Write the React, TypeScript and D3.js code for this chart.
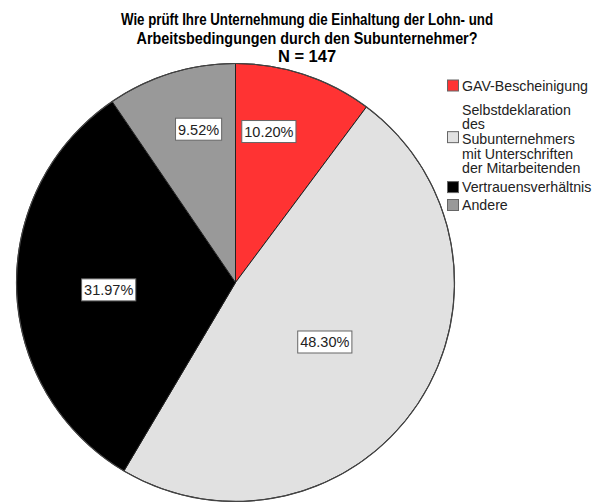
import React from "react";
import * as d3 from "d3";

const categories = [
  "GAV-Bescheinigung",
  "Selbstdeklaration des Subunternehmers mit Unterschriften der Mitarbeitenden",
  "Vertrauensverhältnis",
  "Andere",
];
const legendLines = [
  ["GAV-Bescheinigung"],
  ["Selbstdeklaration", "des", "Subunternehmers", "mit Unterschriften", "der Mitarbeitenden"],
  ["Vertrauensverhältnis"],
  ["Andere"],
];
const percents = [10.2, 48.3, 31.97, 9.52];
const percentLabels = ["10.20%", "48.30%", "31.97%", "9.52%"];
const colors = ["#FF3333", "#E1E1E1", "#000000", "#999999"];
const titleLines = [
  "Wie prüft Ihre Unternehmung die Einhaltung der Lohn- und",
  "Arbeitsbedingungen durch den Subunternehmer?",
  "N = 147",
];

// layout (not data)
const W = 614;
const H = 502;
const cx = 235.5;
const cy = 282.5;
const R = 219;
const labelRadiusFrac = [0.706, 0.49, 0.58, 0.72];
const labelAngleShift = [-5.9, 0, -1.5, 3.6];
const titleWidths = [372, 341, 0];
const labelFont = 14.5;
const legendFont = 14.2;

function textW(s: string, fs: number) {
  let w = 0;
  for (const c of s) {
    if (c === ".") w += 0.278;
    else if (c === "%") w += 0.889;
    else w += 0.556;
  }
  return w * fs;
}

export default function App() {
  const pie = d3.pie<number>().sort(null).value((d) => d);
  const arcs = pie(percents);
  const arcGen = d3.arc<d3.PieArcDatum<number>>().innerRadius(0).outerRadius(R);

  // legend layout
  const lineH = 14.7;
  let cursor = 79.5;
  const legendItems = legendLines.map((lines, i) => {
    const multi = lines.length > 1;
    const top = cursor + (multi ? 6 : 0);
    const baselines = lines.map((_, k) => top + 11.2 + k * lineH);
    const blockMid = top + (lines.length * lineH) / 2;
    const sqY = multi ? blockMid - 8.5 : top + 0.5;
    cursor = top + lines.length * lineH + (multi ? 4.2 : 3.2);
    return { lines, baselines, sqY, i };
  });

  return (
    <svg width={W} height={H} style={{ position: "absolute", left: 0, top: 0, background: "#fff" }}>
      <rect width={W} height={H} fill="#fff" />
      <g transform={`translate(${cx},${cy})`}>
        {arcs.map((a, i) => (
          <path key={i} d={arcGen(a) || ""} fill={colors[i]} stroke="#222" strokeWidth={1} />
        ))}
        <circle r={R} fill="none" stroke="#444" strokeWidth={1.2} />
        {arcs.map((a, i) => {
          const mid = (a.startAngle + a.endAngle) / 2 + (labelAngleShift[i] * Math.PI) / 180;
          const r = labelRadiusFrac[i] * R;
          const x = Math.sin(mid) * r;
          const y = -Math.cos(mid) * r;
          const tw = textW(percentLabels[i], labelFont);
          return (
            <g key={"l" + i} transform={`translate(${x},${y})`}>
              <rect x={-tw / 2 - 2.5} y={-11} width={tw + 5} height={22} fill="#fff" stroke="#666" strokeWidth={1} />
              <text
                textAnchor="middle"
                y={5.3}
                fontFamily="'Liberation Sans', Arial, sans-serif"
                fontSize={labelFont}
                fill="#222"
              >
                {percentLabels[i]}
              </text>
            </g>
          );
        })}
      </g>
      {titleLines.map((t, i) => (
        <text
          key={"t" + i}
          x={W / 2}
          y={25 + i * 18.5}
          textAnchor="middle"
          fontFamily="'Liberation Sans', Arial, sans-serif"
          fontWeight="bold"
          fontSize={16.5}
          fill="#000"
          {...(titleWidths[i] ? { textLength: titleWidths[i], lengthAdjust: "spacingAndGlyphs" } : {})}
        >
          {t}
        </text>
      ))}
      <g>
        {legendItems.map((it) => (
          <g key={"g" + it.i}>
            <rect x={447.5} y={it.sqY} width={11} height={11} fill={colors[it.i]} stroke="#666" strokeWidth={1} />
            {it.lines.map((ln, k) => (
              <text
                key={k}
                x={462}
                y={it.baselines[k]}
                fontFamily="'Liberation Sans', Arial, sans-serif"
                fontSize={legendFont}
                fill="#222"
              >
                {ln}
              </text>
            ))}
          </g>
        ))}
      </g>
    </svg>
  );
}
